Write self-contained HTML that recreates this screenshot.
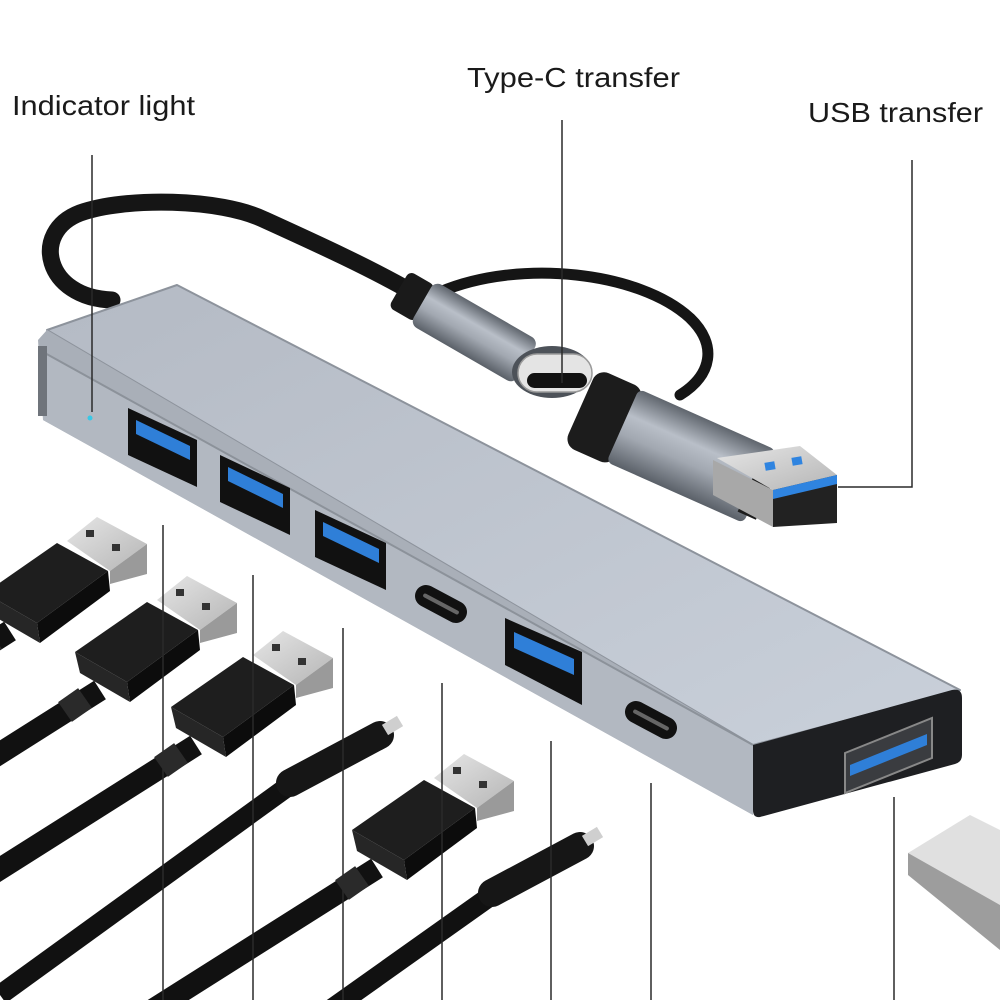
<!DOCTYPE html>
<html><head><meta charset="utf-8"><style>
html,body{margin:0;padding:0;background:#fff;width:1000px;height:1000px;overflow:hidden;}
svg{display:block;}
text{font-family:"Liberation Sans",sans-serif;fill:#1a1a1a;}
</style></head><body>
<svg width="1000" height="1000" viewBox="0 0 1000 1000" xmlns="http://www.w3.org/2000/svg" overflow="hidden">
<defs>
<linearGradient id="top" x1="0" y1="0" x2="1" y2="1">
<stop offset="0" stop-color="#b4bac4"/><stop offset="1" stop-color="#c9d0da"/></linearGradient>
<linearGradient id="metal" x1="0" y1="0" x2="0" y2="1">
<stop offset="0" stop-color="#5f656d"/><stop offset="0.35" stop-color="#b9bfc8"/><stop offset="0.6" stop-color="#a2a8b1"/><stop offset="1" stop-color="#5a6068"/></linearGradient>
<linearGradient id="silver" x1="0" y1="0" x2="1" y2="1">
<stop offset="0" stop-color="#e6e6e6"/><stop offset="1" stop-color="#b5b5b5"/></linearGradient>
<clipPath id="cl"><rect width="1000" height="1000"/></clipPath>
</defs>
<g clip-path="url(#cl)">
<!-- labels -->
<text x="12" y="115" font-size="28" textLength="183" lengthAdjust="spacingAndGlyphs">Indicator light</text>
<text x="467" y="87" font-size="28" textLength="213" lengthAdjust="spacingAndGlyphs">Type-C transfer</text>
<text x="808" y="122" font-size="28" textLength="175" lengthAdjust="spacingAndGlyphs">USB transfer</text>

<!-- main black cable -->
<path d="M112,300 C45,298 30,232 80,213 C125,197 220,198 265,220 C320,245 370,268 412,292" fill="none" stroke="#151515" stroke-width="17" stroke-linecap="round"/>
<!-- secondary cable -->
<path d="M440,292 C520,258 640,272 690,318 C718,345 712,375 680,395" fill="none" stroke="#151515" stroke-width="11" stroke-linecap="round"/>

<!-- hub body -->
<polygon points="47,330 177,285 960,690 753,745" fill="url(#top)" stroke="#8d939c" stroke-width="2" stroke-linejoin="round"/>
<polygon points="38,340 47,330 753,745 753,815 43,420" fill="#a9afb8"/>
<polygon points="43,352 753,745 753,815 43,420" fill="#b2b8c1"/>
<line x1="43" y1="352" x2="753" y2="745" stroke="#8c929a" stroke-width="2"/>
<rect x="38" y="346" width="9" height="70" fill="#6f747b"/>
<!-- end face -->
<path d="M753,745 L952,690 Q962,688 962,698 L962,755 Q962,762 955,764 L760,817 Q753,818 753,810 Z" fill="#1e1f22"/>
<polygon points="845,753 932,718 932,758 845,793" fill="#3a3c40" stroke="#888" stroke-width="2"/>
<polygon points="850,765 927,734 927,745 850,776" fill="#2f7fd8"/>
<circle cx="90" cy="418" r="2.5" fill="#39c8e6"/>

<!-- USB ports on front -->
<polygon points="128,408 197,440 197,487 128,455" fill="#111"/>
<polygon points="136,420 190,446 190,460 136,434" fill="#2f7fd8"/>
<polygon points="220,455 290,488 290,535 220,502" fill="#111"/>
<polygon points="228,467 283,494 283,508 228,481" fill="#2f7fd8"/>
<polygon points="315,510 386,543 386,590 315,557" fill="#111"/>
<polygon points="323,522 379,549 379,563 323,536" fill="#2f7fd8"/>
<polygon points="505,618 582,652 582,705 505,665" fill="#111"/>
<polygon points="514,632 574,659 574,675 514,648" fill="#2f7fd8"/>
<g transform="translate(441,604) rotate(28)"><rect x="-28" y="-11" width="56" height="22" rx="11" fill="#111"/><rect x="-20" y="-2" width="40" height="4" rx="2" fill="#666"/></g>
<g transform="translate(651,720) rotate(28)"><rect x="-28" y="-11" width="56" height="22" rx="11" fill="#111"/><rect x="-20" y="-2" width="40" height="4" rx="2" fill="#666"/></g>

<!-- Type-C connector -->
<g transform="translate(418,300) rotate(30)">
<rect x="-22" y="-21" width="30" height="42" rx="6" fill="#1a1a1a"/>
<rect x="5" y="-25" width="120" height="50" rx="8" fill="url(#metal)"/>
</g>
<ellipse cx="552" cy="372" rx="40" ry="26" fill="#4d5259"/>
<rect x="518" y="354" width="74" height="38" rx="19" fill="#e4e4e4" stroke="#9a9a9a" stroke-width="1.5"/>
<rect x="527" y="373" width="60" height="15" rx="7.5" fill="#111"/>

<!-- USB-A connector -->
<g transform="translate(588,410) rotate(24)">
<rect x="-8" y="-42" width="52" height="84" rx="12" fill="#1c1c1c"/>
<rect x="38" y="-40" width="150" height="80" rx="6" fill="url(#metal)"/>
<rect x="178" y="-32" width="20" height="64" fill="#1c1c1c"/>
</g>
<polygon points="717,458 800,446 837,475 773,490" fill="url(#silver)"/>
<polygon points="713,460 773,490 773,527 713,495" fill="#a8a8a8"/>
<polygon points="773,490 837,475 837,523 773,527" fill="#222"/>
<polygon points="773,490 837,475 837,484 773,499" fill="#2f84e0"/>
<rect x="765" y="462" width="10" height="8" fill="#2f84e0" transform="rotate(-10 770 466)"/>
<rect x="792" y="457" width="10" height="8" fill="#2f84e0" transform="rotate(-10 797 461)"/>

<!-- silver block bottom right -->
<polygon points="908,853 970,815 1000,830 1000,905 908,862" fill="#e0e0e0"/>
<polygon points="908,853 1000,905 1000,950 908,875" fill="#9d9d9d"/>

<!-- USB-A plugs -->
<g id="p2">
<line x1="100" y1="690" x2="-240" y2="905" stroke="#111" stroke-width="22"/>
<line x1="65" y1="712" x2="85" y2="698" stroke="#2a2a2a" stroke-width="24"/>
<polygon points="157,600 187,576 237,603 200,630" fill="url(#silver)"/>
<polygon points="200,630 237,603 237,633 200,643" fill="#9a9a9a"/>
<rect x="176" y="589" width="8" height="7" fill="#333"/>
<rect x="202" y="603" width="8" height="7" fill="#333"/>
<polygon points="75,652 147,602 198,630 127,682" fill="#1e1e1e"/>
<polygon points="127,682 198,630 200,650 130,702" fill="#0c0c0c"/>
<polygon points="75,652 127,682 130,702 80,673" fill="#262626"/>
</g>
<use href="#p2" transform="translate(-90,-59)"/>
<use href="#p2" transform="translate(96,55)"/>
<use href="#p2" transform="translate(277,178)"/>

<!-- Type-C plugs -->
<line x1="290" y1="785" x2="0" y2="995" stroke="#111" stroke-width="20"/>
<line x1="290" y1="783" x2="380" y2="735" stroke="#161616" stroke-width="28" stroke-linecap="round"/>
<line x1="385" y1="730" x2="400" y2="721" stroke="#cfcfcf" stroke-width="12"/>
<line x1="492" y1="895" x2="330" y2="1010" stroke="#111" stroke-width="20"/>
<line x1="492" y1="893" x2="580" y2="846" stroke="#161616" stroke-width="28" stroke-linecap="round"/>
<line x1="585" y1="841" x2="600" y2="832" stroke="#cfcfcf" stroke-width="12"/>

<!-- leader lines -->
<g stroke="#2a2a2a" stroke-width="1.5" fill="none">
<line x1="92" y1="155" x2="92" y2="412"/>
<line x1="562" y1="120" x2="562" y2="383"/>
<polyline points="912,160 912,487 838,487"/>
<line x1="163" y1="525" x2="163" y2="1000"/>
<line x1="253" y1="575" x2="253" y2="1000"/>
<line x1="343" y1="628" x2="343" y2="1000"/>
<line x1="442" y1="683" x2="442" y2="1000"/>
<line x1="551" y1="741" x2="551" y2="1000"/>
<line x1="651" y1="783" x2="651" y2="1000"/>
<line x1="894" y1="797" x2="894" y2="1000"/>
</g>
</g>
</svg>
</body></html>
